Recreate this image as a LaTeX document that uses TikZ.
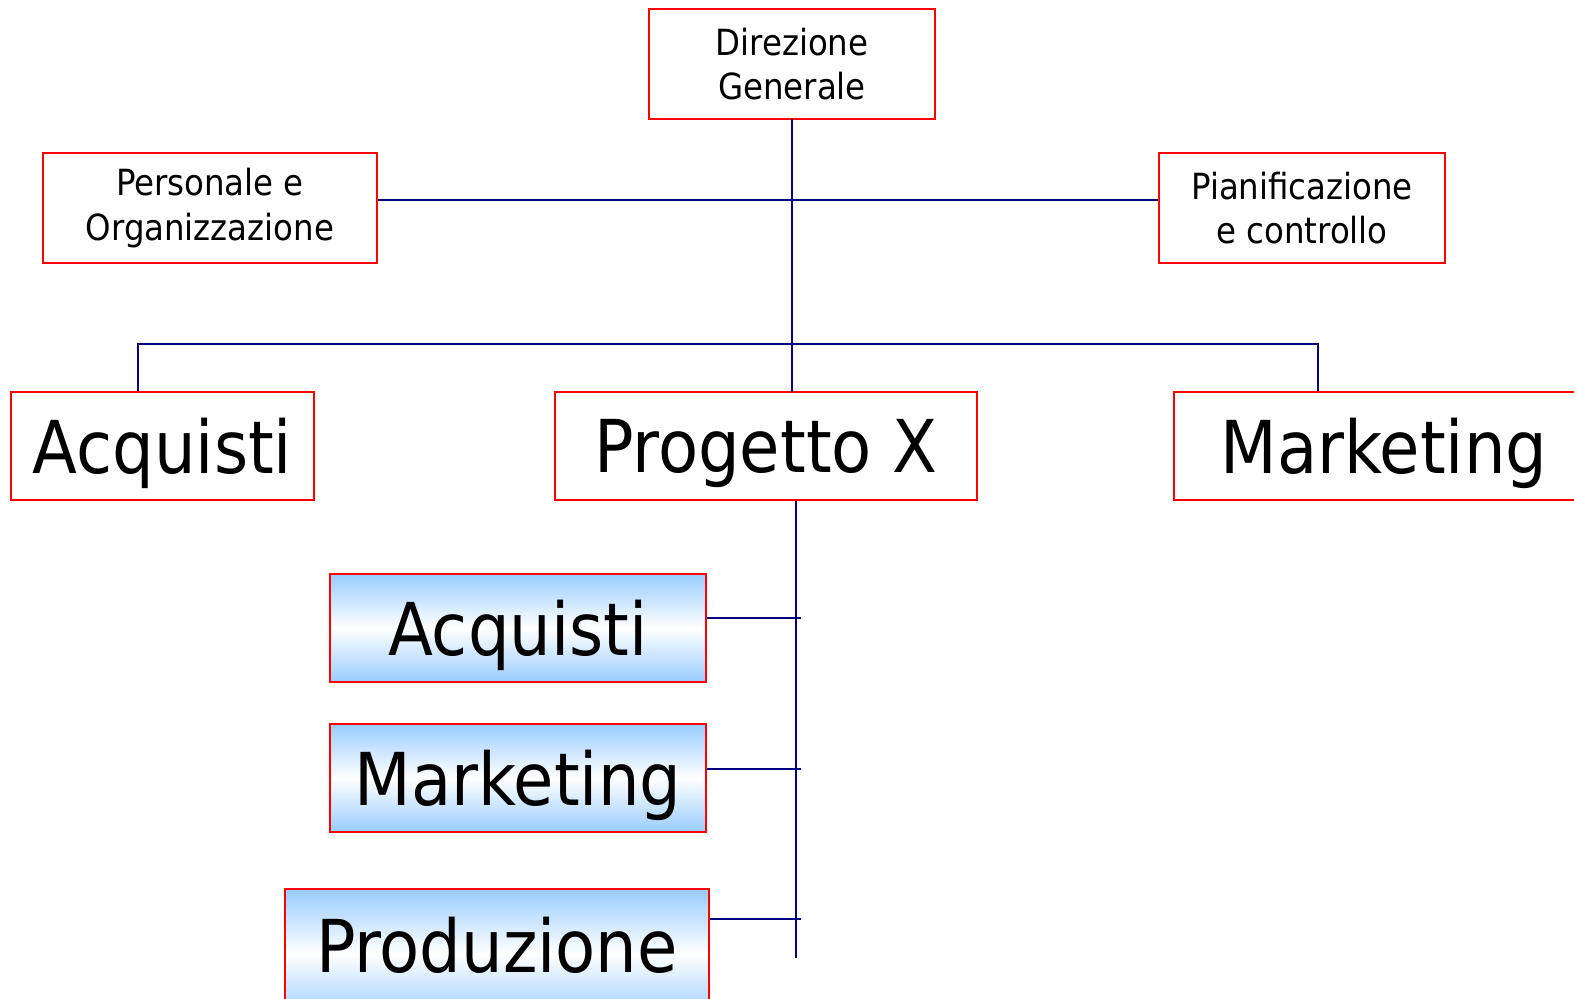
\documentclass[tikz,border=0pt]{standalone}
\usepackage{fontspec}
\setmainfont{DejaVu Sans Condensed}
\usepackage{tikz}
\usetikzlibrary{positioning}

\definecolor{boxred}{RGB}{255,0,0}
\definecolor{linenavy}{RGB}{0,0,128}
\definecolor{skyblue}{RGB}{153,204,255}

\tikzset{
  unit/.style={draw=boxred,line width=1.2pt,align=center,inner sep=0pt},
  smallunit/.style={unit,font=\fontsize{20.5}{25.5}\selectfont,minimum height=2.2cm},
  bigunit/.style={unit,font=\fontsize{41.5}{48}\selectfont,minimum height=2.16cm,text depth=0pt},
  teamunit/.style={bigunit,top color=skyblue,bottom color=skyblue,middle color=white},
  link/.style={draw=linenavy,line width=1.1pt}
}

\begin{document}
\begin{tikzpicture}[x=0.02cm,y=-0.02cm]

\useasboundingbox (0,0) rectangle (1574,999);
\clip (0,0) rectangle (1574,999);

\node(dg)[smallunit,minimum width=5.72cm] at (792,64){Direzione\\Generale};

\node(po)[smallunit,minimum width=6.68cm] at (210,208){Personale e\\Organizzazione};

\node(pc)[smallunit,minimum width=5.72cm] at (1302,208){Pianificazione\\e controllo};

\node(acq)[bigunit,minimum width=6.06cm] at (162.5,446){Acquisti};

\node(prx)[bigunit,minimum width=8.44cm] at (766,446){Progetto X};

\node(mkt)[bigunit,minimum width=8.4cm,text width=8.1cm] at (1384,446){Marketing};

\node(tacq)[teamunit,minimum width=7.52cm] at (518,628){Acquisti};

\node(tmkt)[teamunit,minimum width=7.52cm] at (518,778){Marketing};

\node(tprod)[teamunit,minimum width=8.48cm,minimum height=2.6cm,text depth=10pt] at (497,954){Produzione};

\coordinate(top) at (792,119);
\coordinate(mid) at (792,200);
\coordinate(bar) at (792,344);
\coordinate(spine) at (796,958);

\draw [link] (top) -- (792,392);
\draw [link] (po.east |- mid) -- (pc.west |- mid);
\draw [link] (acq.north -| 138,0) |- (bar) -| (mkt.north -| 1318,0);

\draw [link] (prx.south -| spine) -- (spine);
\draw [link] (tacq.east |- 0,618) -- (801,618);
\draw [link] (tmkt.east |- 0,769) -- (801,769);
\draw [link] (tprod.east |- 0,919) -- (801,919);

\end{tikzpicture}
\end{document}
